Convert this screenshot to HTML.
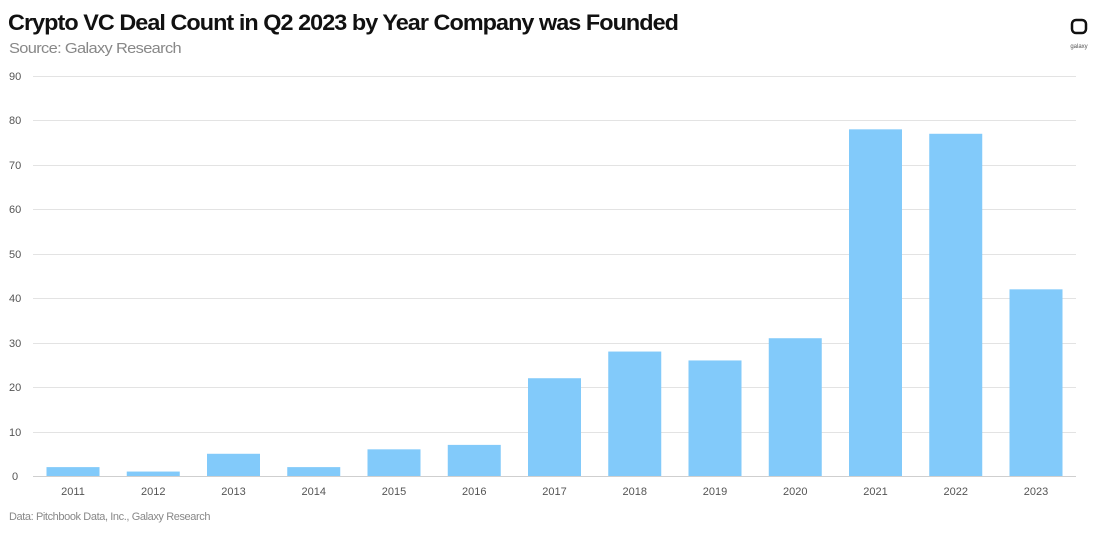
<!DOCTYPE html>
<html><head><meta charset="utf-8"><style>
body{margin:0;background:#fff;width:1100px;height:531px;overflow:hidden;font-family:"Liberation Sans",sans-serif}
</style></head><body>
<svg width="1100" height="531" xmlns="http://www.w3.org/2000/svg" font-family="Liberation Sans, sans-serif">
<text x="8" y="30" font-size="22" font-weight="bold" fill="#111" letter-spacing="-0.9" textLength="670" lengthAdjust="spacingAndGlyphs">Crypto VC Deal Count in Q2 2023 by Year Company was Founded</text>
<text x="9" y="53" font-size="15" fill="#888" letter-spacing="-0.6" textLength="172" lengthAdjust="spacingAndGlyphs">Source: Galaxy Research</text>
<rect x="1072" y="20" width="14" height="13" rx="4" fill="none" stroke="#111" stroke-width="2.5"/>
<text x="1079" y="48" font-size="6" fill="#555" text-anchor="middle">galaxy</text>
<g stroke="#e3e3e3" stroke-width="1">
<line x1="33" x2="1076" y1="76.5" y2="76.5"/><line x1="33" x2="1076" y1="120.5" y2="120.5"/><line x1="33" x2="1076" y1="165.5" y2="165.5"/><line x1="33" x2="1076" y1="209.5" y2="209.5"/><line x1="33" x2="1076" y1="254.5" y2="254.5"/><line x1="33" x2="1076" y1="298.5" y2="298.5"/><line x1="33" x2="1076" y1="343.5" y2="343.5"/><line x1="33" x2="1076" y1="387.5" y2="387.5"/><line x1="33" x2="1076" y1="432.5" y2="432.5"/>
</g>
<line x1="33" x2="1076" y1="476.5" y2="476.5" stroke="#cfcfcf"/>
<g font-size="11" fill="#555">
<text x="9" y="80">90</text><text x="9" y="124">80</text><text x="9" y="169">70</text><text x="9" y="213">60</text><text x="9" y="258">50</text><text x="9" y="302">40</text><text x="9" y="347">30</text><text x="9" y="391">20</text><text x="9" y="436">10</text><text x="12" y="480">0</text>
</g>
<g fill="#82cafa" id="bars"></g>
<g font-size="11" fill="#555" text-anchor="middle" id="labels"></g>
<text x="9" y="520" font-size="11" fill="#888" letter-spacing="-0.4">Data: Pitchbook Data, Inc., Galaxy Research</text>
<script>
var v=[2,1,5,2,6,7,22,28,26,31,78,77,42],b=document.getElementById('bars'),l=document.getElementById('labels'),ns='http://www.w3.org/2000/svg';
v.forEach(function(d,i){var c=73+i*80.25,h=d*400/90;var r=document.createElementNS(ns,'rect');r.setAttribute('x',c-26.5);r.setAttribute('width',53);r.setAttribute('y',476-h);r.setAttribute('height',h);b.appendChild(r);
var t=document.createElementNS(ns,'text');t.setAttribute('x',c);t.setAttribute('y',495);t.textContent=2011+i;l.appendChild(t);});
</script>
</svg>
</body></html>
